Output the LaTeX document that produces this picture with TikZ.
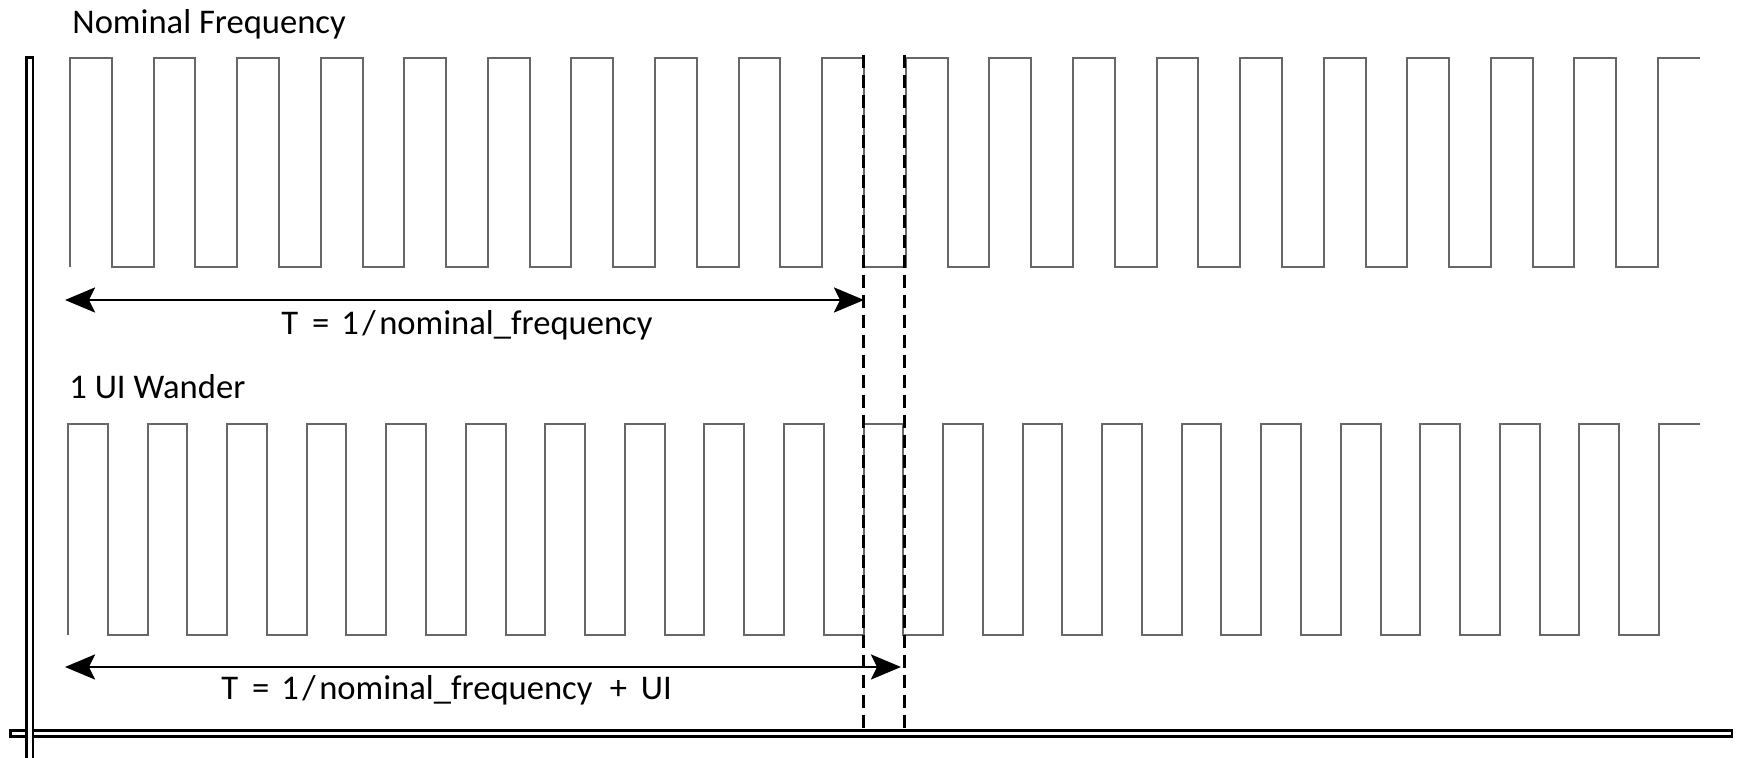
\documentclass[tikz,border=0pt]{standalone}
\usepackage{fontspec}
\setmainfont{Carlito}
\usetikzlibrary{arrows.meta}
\definecolor{wave}{HTML}{676767}
\tikzset{
  wavel/.style={draw=wave,line width=1pt,line join=miter},
  axisbox/.style={draw=black,line width=1.3pt,fill=white},
  guide/.style={draw=black,line width=1.5pt,dash pattern=on 6.5pt off 3.5pt},
  dim/.style={draw=black,line width=1.3pt,{Stealth[length=15pt,width=12.5pt,inset=3pt]}-{Stealth[length=15pt,width=12.5pt,inset=3pt]}},
  lbl/.style={inner sep=0pt,anchor=base west,font=\fontsize{17.3}{20}\selectfont}
}
\begin{document}
\begin{tikzpicture}[x=0.5pt,y=-0.5pt]
\useasboundingbox (0,0) rectangle (1737,758);
% axes
\draw[axisbox] (10.5,730.8) rectangle (1732,736.8);
\draw[axisbox] (26.3,57.3) rectangle (33,770);
% top waveform
\def\Pa{83.58}
\draw[wavel] (70,267)
  \foreach \k in {0,...,18}{
    -- ({70+\k*\Pa},58) -- ({70+\k*\Pa+\Pa/2},58) -- ({70+\k*\Pa+\Pa/2},267) -- ({70+(\k+1)*\Pa},267)
  } -- ({70+19*\Pa},58) -- (1700,58);
% bottom waveform
\def\Pb{79.55}
\draw[wavel] (68,635)
  \foreach \k in {0,...,19}{
    -- ({68+\k*\Pb},424) -- ({68+\k*\Pb+\Pb/2},424) -- ({68+\k*\Pb+\Pb/2},635) -- ({68+(\k+1)*\Pb},635)
  } -- ({68+20*\Pb},424) -- (1700,424);
% dashed guides
\coordinate (g1t) at (863,55);
\coordinate (g1b) at (863,730);
\coordinate (g2t) at (904,55);
\coordinate (g2b) at (904,730);
\draw[guide] (g1t) -- (g1b);
\draw[guide] (g2t) -- (g2b);
% dimension arrows
\coordinate (a1l) at (65,300);
\coordinate (a1r) at (864,300);
\coordinate (a2l) at (65,667);
\coordinate (a2r) at (901,667);
\draw[dim] (a1l) -- (a1r);
\draw[dim] (a2l) -- (a2r);
% labels
\node[lbl] (nomf) at (72,34) {Nominal Frequency};
\node[lbl] (uiw) at (69,399) {1 UI Wander};
\node[lbl] (t1) at (281,335) {T\hspace{0.4em}=\hspace{0.35em}1\hspace{0.1em}/\hspace{0.1em}nominal\_frequency};
\node[lbl] (t2) at (221,700) {T\hspace{0.4em}=\hspace{0.35em}1\hspace{0.1em}/\hspace{0.1em}nominal\_frequency\hspace{0.5em}+\hspace{0.4em}UI};
\end{tikzpicture}
\end{document}
